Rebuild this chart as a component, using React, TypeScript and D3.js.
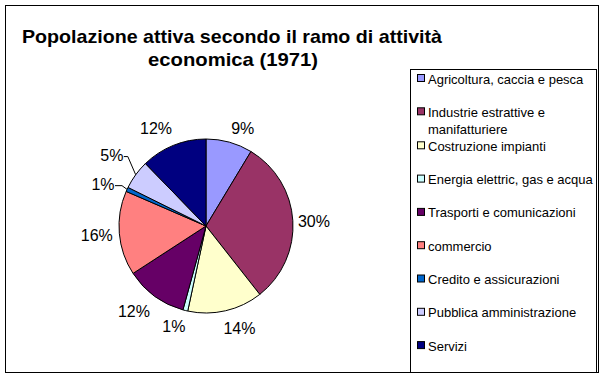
import React from "react";
import * as d3 from "d3";

const legendLines = [
  ["Agricoltura, caccia e pesca"],
  ["Industrie estrattive e", "manifatturiere"],
  ["Costruzione impianti"],
  ["Energia elettric, gas e acqua"],
  ["Trasporti e comunicazioni"],
  ["commercio"],
  ["Credito e assicurazioni"],
  ["Pubblica amministrazione"],
  ["Servizi"],
];
const values = [8.6, 30.6, 13.9, 0.9, 11.5, 15.6, 0.8, 5.4, 12.2];
const labels = ["9%", "30%", "14%", "1%", "12%", "16%", "1%", "5%", "12%"];
const colors = [
  "#9999FF", "#993366", "#FFFFCC", "#CCFFFF", "#660066",
  "#FF8080", "#0066CC", "#CCCCFF", "#000080",
];
const titleLines = ["Popolazione attiva secondo il ramo di attività", "economica (1971)"];

// label layout: angle offset (deg) from slice middle and distance from centre
const labelAngleOffset = [5, 1, -5, 4, 4, 0, -3, 0.7, -5];
const labelDist = [104.6, 108, 108, 105.5, 111.7, 109.6, 111, 117.6, 109.7];

export default function App() {
  const W = 605, H = 378;
  const cx = 206, cy = 226, r = 87;
  const pie = d3.pie<number>().sort(null).value((d) => d)(values);
  const arc = d3.arc<d3.PieArcDatum<number>>().innerRadius(0).outerRadius(r);
  const font = "Arial, 'Liberation Sans', sans-serif";

  const labelPos = pie.map((p, i) => {
    const a = (p.startAngle + p.endAngle) / 2 + (labelAngleOffset[i] * Math.PI) / 180;
    const lr = labelDist[i];
    return [Math.sin(a) * lr, -Math.cos(a) * lr];
  });

  return (
    <svg width={W} height={H} style={{ position: "absolute", left: 0, top: 0, background: "#fff" }}>
      <rect x={0} y={0} width={W} height={H} fill="#fff" />
      <rect x={5.5} y={5.5} width={593} height={367} fill="none" stroke="#000" strokeWidth={1} />
      <text x={232} y={42.5} textAnchor="middle" fontFamily={font} fontWeight="bold" fontSize={18.5}
        textLength={420} lengthAdjust="spacingAndGlyphs" fill="#000">{titleLines[0]}</text>
      <text x={233} y={66} textAnchor="middle" fontFamily={font} fontWeight="bold" fontSize={18.5}
        textLength={170} lengthAdjust="spacingAndGlyphs" fill="#000">{titleLines[1]}</text>
      <g transform={`translate(${cx},${cy})`}>
        {pie.map((p, i) => (
          <path key={i} d={arc(p) || ""} fill={colors[i]} stroke="#000" strokeWidth={1} strokeLinejoin="round" />
        ))}
        {pie.map((p, i) => (
          <text key={i} x={labelPos[i][0]} y={labelPos[i][1]} textAnchor="middle" dominantBaseline="central"
            fontFamily={font} fontSize={16} fill="#000">{labels[i]}</text>
        ))}
        {/* leader lines for small slices */}
        {[6, 7].map((i) => {
          const p = pie[i];
          const a = (p.startAngle + p.endAngle) / 2;
          const ex = Math.sin(a) * r, ey = -Math.cos(a) * r;
          const tx = labelPos[i][0] + 12, ty = labelPos[i][1] + 1;
          const mx = i === 7 ? tx + 4 : tx + 7;
          return (
            <polyline key={i} points={`${tx},${ty} ${mx},${ty} ${ex},${ey}`} fill="none" stroke="#000" strokeWidth={1} />
          );
        })}
      </g>
      <rect x={410.5} y={69.5} width={186} height={303} fill="#fff" stroke="#000" strokeWidth={1} />
      {(() => {
        let y = 79;
        const out: React.ReactNode[] = [];
        legendLines.forEach((lines, i) => {
          out.push(
            <rect key={"s" + i} x={417.5} y={y - 4.5} width={7} height={7} fill={colors[i]} stroke="#000" strokeWidth={1} />
          );
          lines.forEach((l, j) => {
            out.push(
              <text key={"t" + i + "-" + j} x={428} y={y + j * 17} dominantBaseline="central"
                fontFamily={font} fontSize={13} fill="#000">{l}</text>
            );
          });
          y += lines.length > 1 ? 34 : 33.3;
        });
        return out;
      })()}
    </svg>
  );
}
